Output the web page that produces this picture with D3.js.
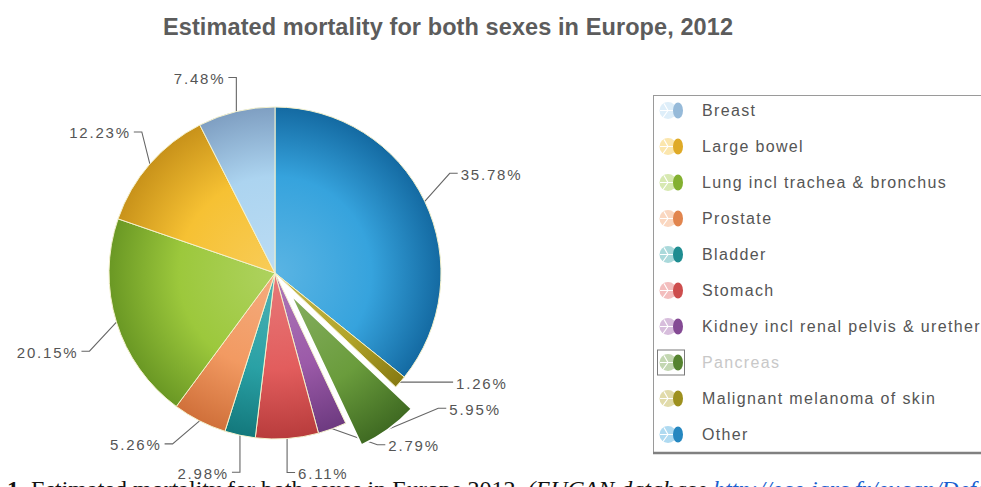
<!DOCTYPE html>
<html>
<head>
<meta charset="utf-8">
<script src="https://cdn.jsdelivr.net/npm/d3@7"></script>
<style>
  html, body { margin: 0; padding: 0; background: #fff; overflow: hidden; }
  svg { display: block; }
</style>
</head>
<body>
<svg id="chart" width="981" height="487"></svg>
<script>
// ---- data ----
const chartTitle = "Estimated mortality for both sexes in Europe, 2012";
const categories = [
  "Breast",
  "Large bowel",
  "Lung incl trachea & bronchus",
  "Prostate",
  "Bladder",
  "Stomach",
  "Kidney incl renal pelvis & urether",
  "Pancreas",
  "Malignant melanoma of skin",
  "Other"
];
const shares = [7.48, 12.23, 20.15, 5.26, 2.98, 6.11, 2.79, 5.95, 1.26, 35.78];
const baseColors = ["#acd4f0", "#f6c133", "#9cc83c", "#f29a62", "#2aa1a5", "#e25d5d", "#9b5aa8", "#6a9c3c", "#b3a52a", "#36a3dd"];
const rimColors  = ["#7f9fc2", "#c8921a", "#6a9824", "#d0703a", "#13787c", "#b83c3c", "#6d3a80", "#3f6a22", "#877a12", "#146aa2"];
const highlighted = "Pancreas";
// leader-line elbow offset from the rim point [dx, dy] and label side (-1 left, 1 right)
const labelPlacement = [
  [0, -34, -1], [-8, -32, -1], [-27, 29, -1], [-27, 23, -1], [0, 37, -1],
  [0, 34, 1], [45, 16, 1], [50, -21, 1], [45, 0, 1], [25, -28, 1]
];
const captionNumber = "1.";
const captionText = " Estimated mortality for both sexes in Europe 2012. ";
const captionSource = "(EUCAN database ";
const captionLink = "http://eco.iarc.fr/eucan/Default.aspx";

// ---- layout ----
const cx = 275, cy = 273, R = 166, explode = 27;
const svg = d3.select("#chart");
const defs = svg.append("defs");
const font = "'Liberation Sans', Arial, sans-serif";

svg.append("text")
  .attr("x", 163).attr("y", 35)
  .attr("font-family", font).attr("font-size", 23.5).attr("font-weight", "bold")
  .attr("fill", "#5c5c5c")
  .attr("textLength", 570).attr("lengthAdjust", "spacing")
  .text(chartTitle);

const rows = categories.map((name, i) => ({
  name, i, value: shares[i], base: baseColors[i], rimC: rimColors[i], place: labelPlacement[i]
}));

// slice shading
rows.forEach(r => {
  const g = defs.append("radialGradient")
    .attr("id", "grad" + r.i)
    .attr("gradientUnits", "userSpaceOnUse")
    .attr("cx", 0).attr("cy", 0).attr("r", R);
  g.append("stop").attr("offset", "0%").attr("stop-color", d3.interpolateRgb(r.base, "#fff")(0.18));
  g.append("stop").attr("offset", "58%").attr("stop-color", r.base);
  g.append("stop").attr("offset", "100%").attr("stop-color", r.rimC);
});

// pie runs clockwise from 12 o'clock in reverse legend order
const pie = d3.pie().sort(null).value(d => d.value);
const arcs = pie(rows.slice().reverse());
const arc = d3.arc().innerRadius(0).outerRadius(R);
const rim = d3.arc().innerRadius(R).outerRadius(R);

const shift = d => {
  if (d.data.name !== highlighted) return [0, 0];
  const a = (d.startAngle + d.endAngle) / 2;
  return [explode * Math.sin(a), -explode * Math.cos(a)];
};

const pieG = svg.append("g").attr("transform", `translate(${cx},${cy})`);

// leader lines and value labels
const lblG = pieG.append("g");
arcs.forEach(d => {
  const [sx, sy] = shift(d);
  const [ax, ay] = rim.centroid(d);
  const p0 = [ax + sx, ay + sy];
  const [dx, dy, side] = d.data.place;
  const p1 = [p0[0] + dx, p0[1] + dy];
  const p2 = [p1[0] + 8 * side, p1[1]];
  lblG.append("path")
    .attr("d", d3.line()([p0, p1, p2]))
    .attr("fill", "none").attr("stroke", "#666").attr("stroke-width", 1.1);
  lblG.append("text")
    .attr("x", p2[0] + 3 * side).attr("y", p2[1] + 1)
    .attr("dy", "0.36em")
    .attr("text-anchor", side < 0 ? "end" : "start")
    .attr("font-family", font).attr("font-size", 15)
    .attr("letter-spacing", 1.8)
    .attr("fill", "#555")
    .text(d3.format(".2f")(d.data.value) + "%");
});

const sliceG = pieG.append("g");
const ordered = arcs.filter(d => d.data.name !== highlighted).concat(arcs.filter(d => d.data.name === highlighted));
sliceG.selectAll("path.slice")
  .data(ordered)
  .join("path")
  .attr("class", "slice")
  .attr("transform", d => `translate(${shift(d)})`)
  .attr("d", arc)
  .attr("fill", d => `url(#grad${d.data.i})`)
  .attr("stroke", d => d.data.name === highlighted ? "#fff" : "#f4f1cc")
  .attr("stroke-width", d => d.data.name === highlighted ? 1.6 : 1)
  .attr("stroke-linejoin", "round");

// ---- legend ----
const leg = svg.append("g");
leg.append("rect")
  .attr("x", 653.5).attr("y", 95.5).attr("width", 400).attr("height", 357)
  .attr("fill", "#fff").attr("stroke", "#9a9a9a");
leg.append("line")
  .attr("x1", 653).attr("x2", 981).attr("y1", 453).attr("y2", 453)
  .attr("stroke", "#808080").attr("stroke-width", 2.5);

rows.forEach((r, i) => {
  const y = 110.5 + 36 * i;
  const g = leg.append("g");
  if (r.name === highlighted) {
    g.append("rect").attr("x", 657.5).attr("y", y - 12.5).attr("width", 27).attr("height", 25)
      .attr("fill", "#fff").attr("stroke", "#7a7a7a");
  }
  const pale = d3.interpolateRgb(r.base, "#fff")(0.6);
  g.append("circle").attr("cx", 668).attr("cy", y).attr("r", 8.5).attr("fill", pale);
  g.append("path")
    .attr("d", `M${660},${y} L${676},${y} M${668},${y} L${663},${y + 7} M${668},${y} L${664},${y - 7}`)
    .attr("stroke", "#fff").attr("stroke-width", 1.2).attr("fill", "none");
  g.append("ellipse").attr("cx", 678).attr("cy", y).attr("rx", 5).attr("ry", 8)
    .attr("fill", d3.interpolateRgb(r.base, r.rimC)(0.5));
  g.append("text")
    .attr("x", 702).attr("y", y).attr("dy", "0.36em")
    .attr("font-family", font).attr("font-size", 16)
    .attr("letter-spacing", 1.35)
    .attr("fill", r.name === highlighted ? "#c8c8c8" : "#555")
    .text(r.name);
});

// ---- caption below the chart ----
const cap = svg.append("text")
  .attr("x", 7).attr("y", 497)
  .attr("font-family", "'Liberation Serif', 'Times New Roman', serif")
  .attr("font-size", 24).attr("fill", "#111");
cap.append("tspan").attr("font-weight", "bold").text(captionNumber);
cap.append("tspan").text(captionText);
cap.append("tspan").attr("font-style", "italic").text(captionSource);
cap.append("tspan").attr("font-style", "italic").attr("fill", "#1a5fd0")
  .attr("text-decoration", "underline").text(captionLink);
</script>
</body>
</html>
